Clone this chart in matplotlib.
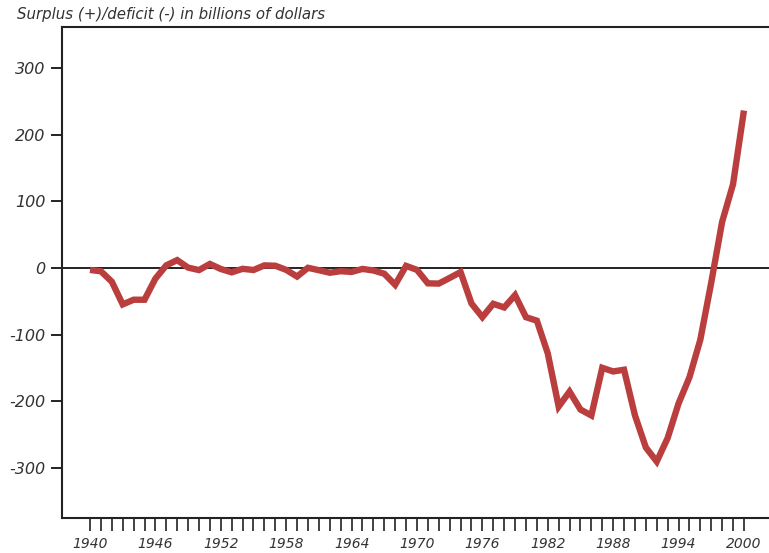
import matplotlib
matplotlib.use("Agg")
import matplotlib.pyplot as plt

# federal surplus (+) / deficit (-), billions of dollars, 1940-2000
years = list(range(1940, 2001))
balance = [-2.9, -4.9, -20.5, -54.6, -47.6, -47.6, -15.9, 4.0, 11.8, 0.6,
           -3.1, 6.1, -1.5, -6.5, -1.2, -3.0, 3.9, 3.4, -2.8, -12.8,
           0.3, -3.3, -7.1, -4.8, -5.9, -1.4, -3.7, -8.6, -25.2, 3.2,
           -2.8, -23.0, -23.4, -14.9, -6.1, -53.2, -73.7, -53.7, -59.2, -40.7,
           -73.8, -79.0, -128.0, -207.8, -185.4, -212.3, -221.2, -149.7, -155.2, -152.6,
           -221.0, -269.2, -290.3, -255.1, -203.2, -164.0, -107.4, -21.9, 69.3, 125.6,
           236.2]

xlabel_years = [1940, 1946, 1952, 1958, 1964, 1970, 1976, 1982, 1988, 1994, 2000]
yticks = [-300, -200, -100, 0, 100, 200, 300]
title = "Surplus (+)/deficit (-) in billions of dollars"

plt.rc("font", family="DejaVu Sans", style="italic", size=11)

fig = plt.figure(figsize=(7.69, 5.53), dpi=100)
ax = fig.add_axes([62/769, 35/553, 1 - 62/769, (518 - 27)/553])

ax.axhline(0, color="#222222", lw=1.4, zorder=1)
ax.plot(years, balance, color="#BA3E3E", lw=4.6, solid_capstyle="butt",
        solid_joinstyle="miter", zorder=2)

ax.set_xlim(1937.43, 2002.3)
ax.set_ylim(-375, 361.5)

ax.set_yticks(yticks)
ax.set_yticklabels([str(v) for v in yticks])
ax.set_xticks(years, minor=True)
ax.set_xticks(xlabel_years)
ax.set_xticklabels([str(y) for y in xlabel_years])

ax.tick_params(axis="y", direction="out", length=8, width=1.4, color="#222222",
               labelcolor="#333333", labelsize=11.5, pad=4)
ax.tick_params(axis="x", which="both", direction="out", length=9, width=1.2,
               color="#222222", labelcolor="#333333", labelsize=10, pad=5)

for side in ["left", "top", "bottom"]:
    ax.spines[side].set_color("#222222")
    ax.spines[side].set_linewidth(1.5)
ax.spines["right"].set_visible(False)

fig.text(17/769, 1 - 15/553, title, ha="left", va="center", fontsize=10.8,
         color="#333333", style="italic")

fig.savefig("out.png", dpi=100)
